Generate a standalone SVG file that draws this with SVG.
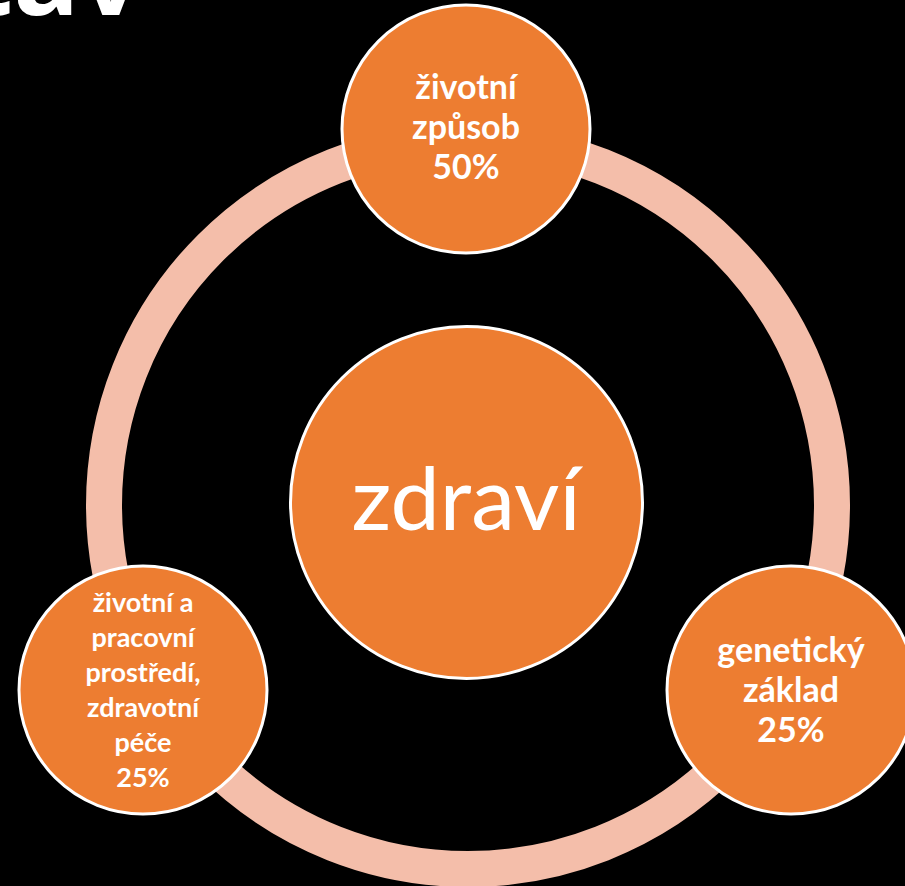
<svg xmlns="http://www.w3.org/2000/svg" width="905" height="886" viewBox="0 0 905 886">
<style>
.node{fill:#ED7D31;stroke:#FFFFFF;stroke-width:3}
.lbl{font-family:Lato,"Open Sans","Liberation Sans",sans-serif;font-weight:bold;fill:#FFFFFF;text-anchor:middle}
.big{font-size:34px}
.small{font-size:27px}
.center{font-family:Lato,"Open Sans","Liberation Sans",sans-serif;font-size:88px;fill:#FFFFFF;text-anchor:middle}
.title{font-family:"Open Sans","Liberation Sans",sans-serif;font-weight:bold;font-size:110px;fill:#FFFFFF}
</style>
<rect x="0" y="0" width="905" height="886" fill="#000000"/>
<text class="title" x="142" y="15" text-anchor="end">tav</text>
<g id="connectors">
<circle cx="468" cy="505" r="364" fill="none" stroke="#F4BEAA" stroke-width="36"/>
</g>
<g id="node-center">
<circle class="node" cx="466.5" cy="502.5" r="176"/>
<text class="center" x="466" y="530">zdraví</text>
</g>
<g id="node-top">
<circle class="node" cx="466" cy="129" r="124"/>
<text class="lbl big" x="466" y="99">životní</text>
<text class="lbl big" x="466" y="139">způsob</text>
<text class="lbl big" x="466" y="179">50%</text>
</g>
<g id="node-right">
<circle class="node" cx="791" cy="690" r="124"/>
<text class="lbl big" x="791" y="662">genetický</text>
<text class="lbl big" x="791" y="702">základ</text>
<text class="lbl big" x="791" y="742">25%</text>
</g>
<g id="node-left">
<circle class="node" cx="143" cy="690" r="124"/>
<text class="lbl small" x="143" y="612">životní a</text>
<text class="lbl small" x="143" y="647">pracovní</text>
<text class="lbl small" x="143" y="682">prostředí,</text>
<text class="lbl small" x="143" y="717">zdravotní</text>
<text class="lbl small" x="143" y="752">péče</text>
<text class="lbl small" x="143" y="787">25%</text>
</g>
</svg>
